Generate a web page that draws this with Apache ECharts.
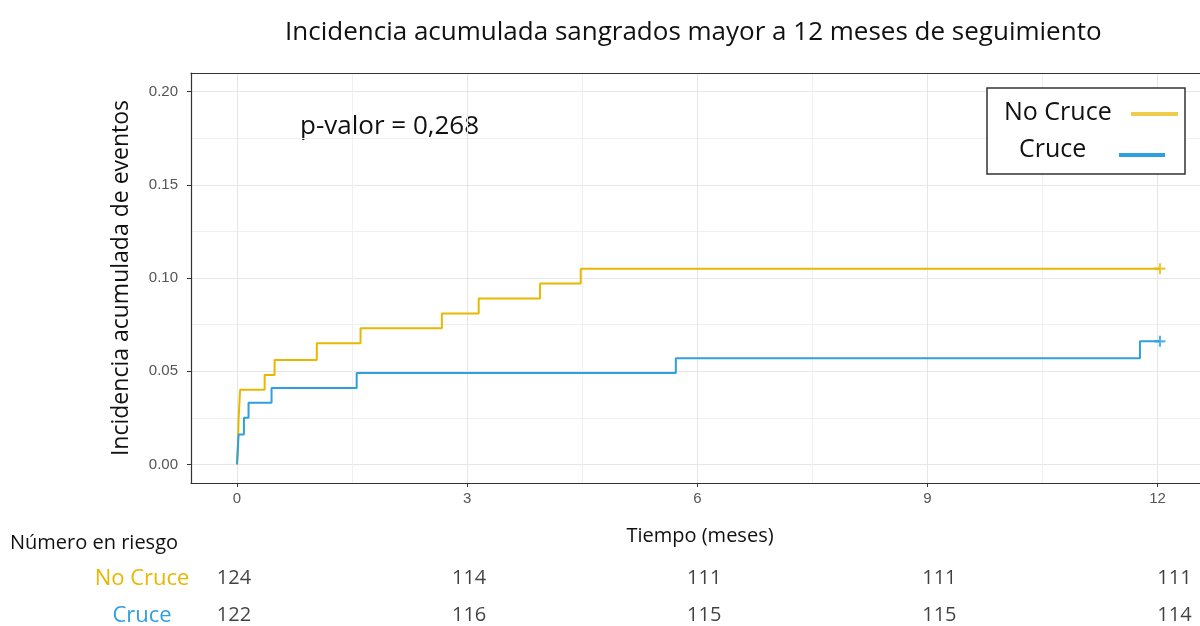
<!DOCTYPE html>
<html><head><meta charset="utf-8">
<script src="https://cdn.jsdelivr.net/npm/echarts@6/dist/echarts.min.js"></script>
<style>html,body{margin:0;padding:0;background:#fff}#c{width:1200px;height:626px}</style>
</head><body><div id="c"></div>
<script>
const titleText = 'Incidencia acumulada sangrados mayor a 12 meses de seguimiento';
const xName = 'Tiempo (meses)';
const yName = 'Incidencia acumulada de eventos';
const riskTitle = 'Número en riesgo';
const pValueText = 'p-valor = 0,268';
const groups = ['No Cruce', 'Cruce'];
const colors = ['#E7B800', '#2E9FDF'];

const noCruceTimes  = [0, 0.01, 0.02, 0.03, 0.04, 0.36, 0.49, 1.04, 1.61, 2.67, 3.15, 3.95, 4.48, 12.03];
const noCruceValues = [0, 0.008, 0.024, 0.032, 0.040, 0.048, 0.056, 0.065, 0.073, 0.081, 0.089, 0.097, 0.105, 0.105];
const cruceTimes    = [0, 0.02, 0.09, 0.15, 0.45, 1.56, 5.72, 11.77, 12.03];
const cruceValues   = [0, 0.016, 0.025, 0.033, 0.041, 0.049, 0.057, 0.066, 0.066];
const censorTimes   = [12.03, 12.03];
const censorValues  = [0.105, 0.066];

const xTicks = [0, 3, 6, 9, 12];
const xMinorTicks = [1.5, 4.5, 7.5, 10.5];
const yTicks = [0, 0.05, 0.10, 0.15, 0.20];
const yMinorTicks = [0.025, 0.075, 0.125, 0.175];

const riskTimes = [0, 3, 6, 9, 12];
const riskNoCruce = [124, 114, 111, 111, 111];
const riskCruce = [122, 116, 115, 115, 114];

const FONT = '"Open Sans"';
const xMin = -0.6, xMax = 12.67, yMin = -0.01, yMax = 0.21;

const zip = (a, b) => a.map((v, i) => [v, b[i]]);
const plusPath = 'path://M4,0h2v4h4v2h-4v4h-2v-4h-4v-2h4z';

const chart = echarts.init(document.getElementById('c'), null, {renderer: 'canvas'});
const riskData = [];
riskTimes.forEach((t, i) => {
  riskData.push([t, groups[0], riskNoCruce[i]]);
  riskData.push([t, groups[1], riskCruce[i]]);
});

const borderLine = {show: true, onZero: false, lineStyle: {color: '#333', width: 1.2}};

const option = {
  backgroundColor: '#fff',
  animation: false,
  title: {
    text: titleText, left: 280, top: 15,
    textStyle: {fontFamily: FONT, fontSize: 26, fontWeight: 'normal', color: '#111'}
  },
  grid: [
    {left: 191, top: 73, width: 1018, height: 410, outerBoundsMode: 'none', containLabel: false, show: false},
    {left: 187, top: 560, width: 1040, height: 74, outerBoundsMode: 'none', containLabel: false, show: false}
  ],
  xAxis: [
    {type: 'value', gridIndex: 0, min: xMin, max: xMax, position: 'bottom',
     name: xName, nameLocation: 'middle', nameGap: 43,
     nameTextStyle: {fontFamily: FONT, fontSize: 20, color: '#111'},
     axisLine: borderLine,
     axisTick: {show: true, length: 4, customValues: xTicks, lineStyle: {color: '#333'}},
     axisLabel: {customValues: xTicks, margin: 8, fontFamily: 'Liberation Sans', fontSize: 15, color: '#555'},
     splitLine: {show: true, lineStyle: {color: '#E6E6E6', width: 1}}},
    {type: 'value', gridIndex: 0, min: xMin, max: xMax, position: 'top',
     axisLine: borderLine, axisTick: {show: false, customValues: xMinorTicks},
     axisLabel: {show: false, customValues: xMinorTicks},
     splitLine: {show: true, lineStyle: {color: '#F0F0F0', width: 1}}},
    {type: 'value', gridIndex: 1, min: xMin, max: xMax, show: false, splitLine: {show: false}}
  ],
  yAxis: [
    {type: 'value', gridIndex: 0, min: yMin, max: yMax, position: 'left',
     name: yName, nameLocation: 'middle', nameGap: 58,
     nameTextStyle: {fontFamily: FONT, fontSize: 23, color: '#111'},
     axisLine: borderLine,
     axisTick: {show: true, length: 4, customValues: yTicks, lineStyle: {color: '#333'}},
     axisLabel: {customValues: yTicks, margin: 13, formatter: v => v.toFixed(2), fontFamily: 'Liberation Sans', fontSize: 15, color: '#555'},
     splitLine: {show: true, lineStyle: {color: '#E6E6E6', width: 1}}},
    {type: 'value', gridIndex: 0, min: yMin, max: yMax, position: 'left',
     axisLine: {show: false, onZero: false}, axisTick: {show: false, customValues: yMinorTicks},
     axisLabel: {show: false, customValues: yMinorTicks},
     splitLine: {show: true, lineStyle: {color: '#F0F0F0', width: 1}}},
    {type: 'category', gridIndex: 1, data: groups, inverse: true,
     axisLine: {show: false}, axisTick: {show: false}, splitLine: {show: false},
     axisLabel: {show: true, align: 'center', margin: 45,
       formatter: (v, i) => '{g' + i + '|' + v + '}',
       rich: {g0: {color: colors[0], fontFamily: FONT, fontSize: 22}, g1: {color: colors[1], fontFamily: FONT, fontSize: 22}}}}
  ],
  series: [
    {name: groups[0], type: 'line', xAxisIndex: 0, yAxisIndex: 0, step: 'end', showSymbol: false,
     data: zip(noCruceTimes, noCruceValues), lineStyle: {color: colors[0], width: 2}, itemStyle: {color: colors[0]}},
    {name: groups[1], type: 'line', xAxisIndex: 0, yAxisIndex: 0, step: 'end', showSymbol: false,
     data: zip(cruceTimes, cruceValues), lineStyle: {color: colors[1], width: 2}, itemStyle: {color: colors[1]}},
    {type: 'scatter', xAxisIndex: 0, yAxisIndex: 0, symbol: plusPath, symbolSize: 11,
     data: censorTimes.map((t, i) => ({value: [t, censorValues[i]], itemStyle: {color: colors[i]}}))},
    {type: 'scatter', xAxisIndex: 2, yAxisIndex: 2, symbolSize: 0, data: riskData,
     label: {show: true, position: 'inside', formatter: p => String(p.value[2]), fontFamily: FONT, fontSize: 20, color: '#111'}}
  ],
  graphic: [
    {type: 'text', x: 300, y: 127, style: {text: pValueText, font: '26px ' + FONT, fill: '#111', verticalAlign: 'middle'}},
    {type: 'text', x: 10, y: 543, style: {text: riskTitle, font: '20px ' + FONT, fill: '#111', verticalAlign: 'middle'}},
    {type: 'rect', shape: {x: 987, y: 88, width: 198, height: 86}, style: {fill: '#fff', stroke: '#333', lineWidth: 1.5}, z: 10},
    {type: 'text', x: 1004, y: 113, style: {text: groups[0], font: '25px ' + FONT, fill: '#111', verticalAlign: 'middle'}, z: 11},
    {type: 'line', shape: {x1: 1131, y1: 114, x2: 1178, y2: 114}, style: {stroke: colors[0], lineWidth: 4, opacity: 0.7}, z: 11},
    {type: 'text', x: 1019, y: 150, style: {text: groups[1], font: '25px ' + FONT, fill: '#111', verticalAlign: 'middle'}, z: 11},
    {type: 'line', shape: {x1: 1119, y1: 155, x2: 1165, y2: 155}, style: {stroke: colors[1], lineWidth: 4}, z: 11}
  ]
};
chart.setOption(option);
</script>
</body></html>
